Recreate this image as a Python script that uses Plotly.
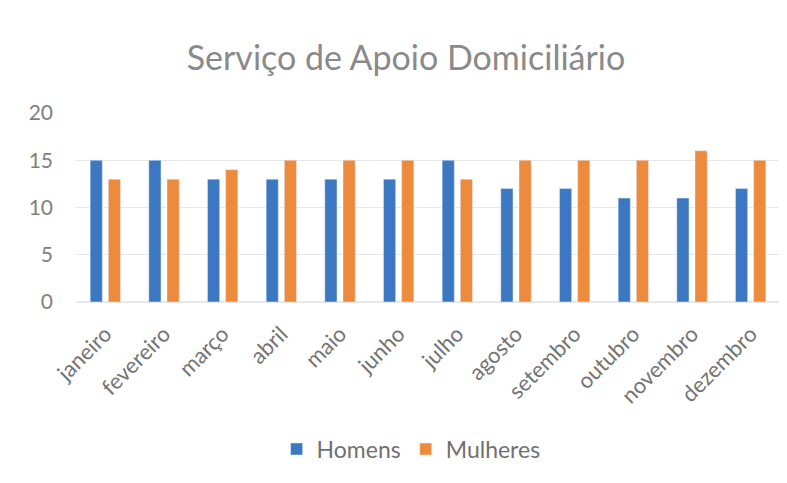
import plotly.graph_objects as go

months = ["janeiro", "fevereiro", "março", "abril", "maio", "junho",
          "julho", "agosto", "setembro", "outubro", "novembro", "dezembro"]
homens = [15, 15, 13, 13, 13, 13, 15, 12, 12, 11, 11, 12]
mulheres = [13, 13, 14, 15, 15, 15, 13, 15, 15, 15, 16, 15]
y_ticks = [0, 5, 10, 15, 20]

FONT = "Lato, 'Open Sans', sans-serif"

fig = go.Figure()
fig.add_trace(go.Bar(x=months, y=homens, name="Homens", marker_color="#3C77C2"))
fig.add_trace(go.Bar(x=months, y=mulheres, name="Mulheres", marker_color="#EE8A3C"))

fig.update_layout(
    width=787, height=483,
    paper_bgcolor="white", plot_bgcolor="white",
    margin=dict(l=68, r=15, t=105, b=189),
    barmode="group", bargap=0.38, bargroupgap=0.33,
    title=dict(text="Serviço de Apoio Domiciliário", x=398 / 787, xanchor="center",
               y=1 - 50 / 483, yanchor="middle",
               font=dict(family=FONT, size=34, color="#8a8a8a")),
    font=dict(family=FONT, color="#707070"),
    legend=dict(orientation="h", x=0.476, xanchor="center", y=-0.778, yanchor="middle",
                font=dict(size=23, color="#707070"), itemwidth=30),
    showlegend=True,
)
fig.update_xaxes(tickangle=-45, tickfont=dict(size=22, color="#747474"),
                 showgrid=False, showline=False, ticks="", automargin=False,
                 ticklabelstandoff=14)
fig.update_yaxes(range=[0, 20], tickvals=y_ticks, tickfont=dict(size=21, color="#808080"),
                 gridcolor="#e8e8e8", gridwidth=1, zeroline=True, zerolinecolor="#e8e8e8",
                 ticks="", ticklabelstandoff=22, automargin=False)

fig.write_html("out.html")
